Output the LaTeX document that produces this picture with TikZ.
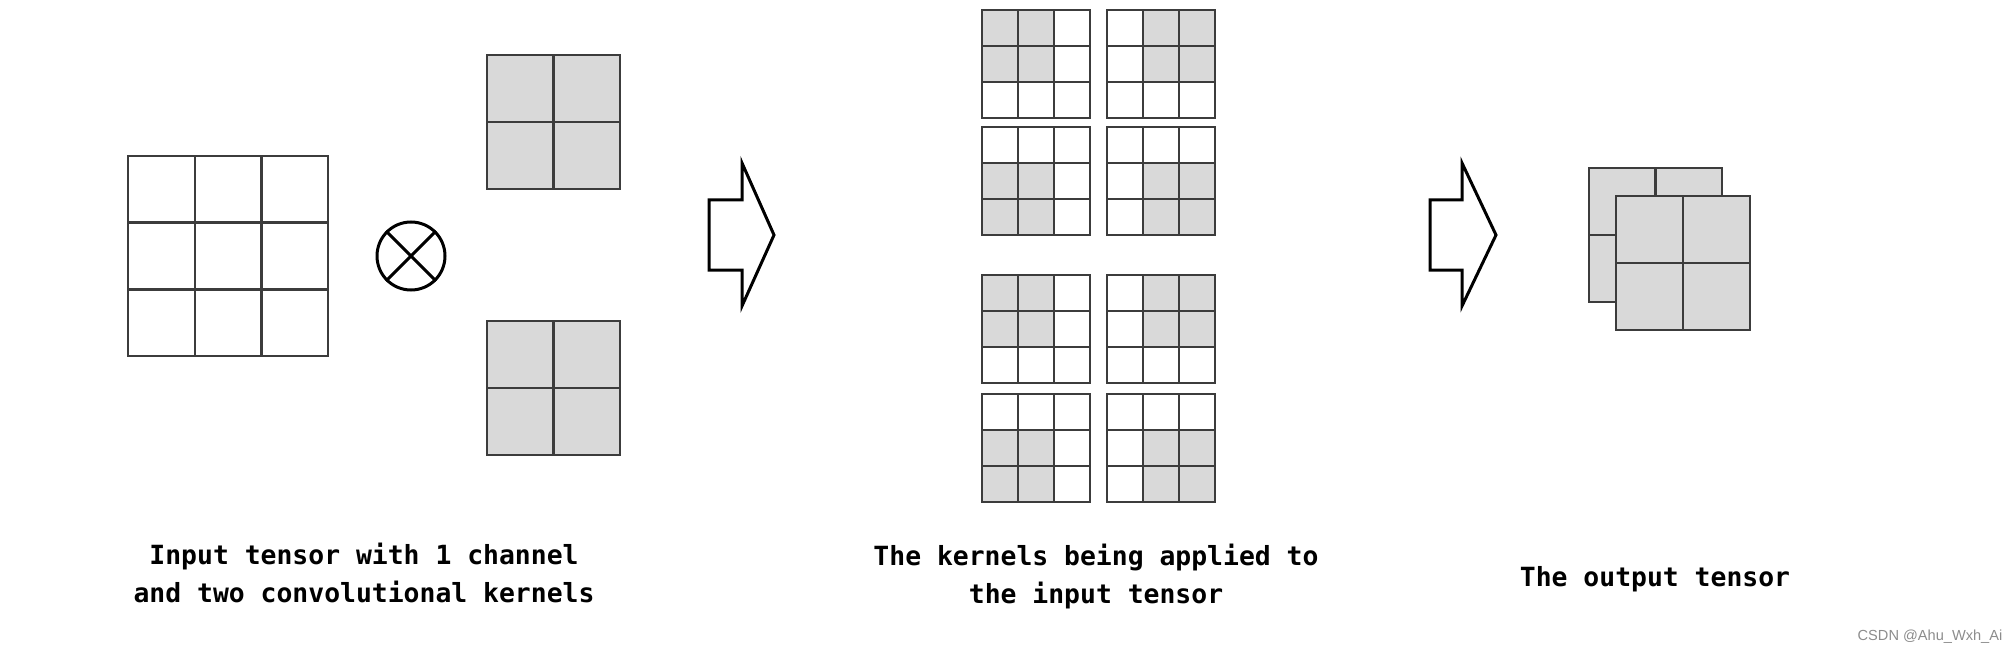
\documentclass[tikz,border=0pt]{standalone}
\usepackage{fontspec}
\setmonofont{DejaVu Sans Mono}
\setsansfont{Liberation Sans}
\definecolor{cellgray}{HTML}{D9D9D9}
\definecolor{linegray}{HTML}{3C3C3C}
\definecolor{markgray}{HTML}{8C8C8C}

\begin{document}
\begin{tikzpicture}[x=0.5pt,y=-0.5pt,
	cell/.style={draw=linegray,line width=1.2pt},
	shade/.style={fill=cellgray},
	blockarrow/.style={draw=black,line width=1.5pt,line join=miter},
	caption/.style={align=center,font=\fontsize{13.2}{19}\selectfont\ttfamily\bfseries}]
	\useasboundingbox (0,0) rectangle (2016,652);

	% input tensor, one channel
	\draw[cell] (128,156) rectangle (328,356);
	\draw[cell] (194.7,156) -- (194.7,356) (261.3,156) -- (261.3,356)
		(128,222.7) -- (328,222.7) (128,289.3) -- (328,289.3);

	\node at (411,256)(conv)[circle,draw=black,line width=1.5pt,minimum size=34pt,inner sep=0pt]{};
	\draw[line width=1.5pt] (conv.north west) -- (conv.south east)
		(conv.north east) -- (conv.south west);

	% the two kernels
	\draw[cell,shade] (487,55) rectangle (620,189);
	\draw[cell] (553.5,55) -- (553.5,189) (487,122) -- (620,122);
	\draw[cell,shade] (487,321) rectangle (620,455);
	\draw[cell] (553.5,321) -- (553.5,455) (487,388) -- (620,388);

	\draw[blockarrow] (709,200) -- (742,200) -- (742,163) -- (774,235)
		-- (742,306) -- (742,270) -- (709,270) -- cycle;

	% kernels applied at each position
	\foreach \gx/\sx in {982/0,1107/36}
	\foreach \gy/\sy in {10/0,127/36,275/0,394/36}{
		\fill[shade] (\gx+\sx,\gy+\sy) rectangle ++(72,72);
		\draw[cell] (\gx,\gy) rectangle ++(108,108);
		\draw[cell] (\gx+36,\gy) -- ++(0,108) (\gx+72,\gy) -- ++(0,108)
			(\gx,\gy+36) -- ++(108,0) (\gx,\gy+72) -- ++(108,0);
	}

	\draw[blockarrow] (1430,200) -- (1462,200) -- (1462,163) -- (1496,235)
		-- (1462,306) -- (1462,270) -- (1430,270) -- cycle;

	% output tensor
	\draw[cell,shade] (1589,168) rectangle (1722,302);
	\draw[cell] (1655.5,168) -- (1655.5,302) (1589,235) -- (1722,235);
	\draw[cell,shade] (1616,196) rectangle (1750,330);
	\draw[cell] (1683,196) -- (1683,330) (1616,263) -- (1750,263);

	\node[caption] at (364,573)(capin){Input tensor with 1 channel\\and two convolutional kernels};
	\node[caption] at (1096,577)(capmid){The kernels being applied to\\the input tensor};
	\node[caption] at (1655,579)(capout){The output tensor};
	\node[font=\fontsize{7.3}{9}\selectfont\sffamily,text=markgray] at (1930,637)(mark){CSDN @Ahu\_Wxh\_Ai};
\end{tikzpicture}
\end{document}
